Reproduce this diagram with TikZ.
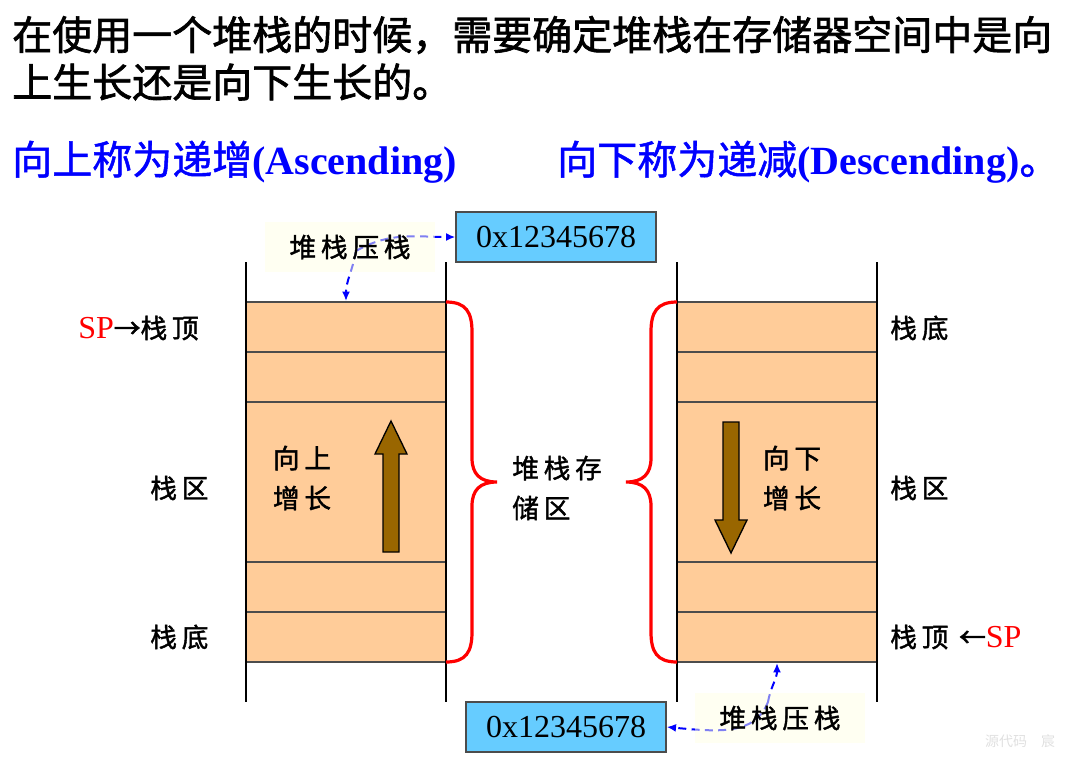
\documentclass[tikz,border=0pt]{standalone}
\usepackage{fontspec}
\setmainfont{Liberation Serif}
\newfontfamily\cjk{Noto Sans CJK SC}
\newfontfamily\cjkt[FakeBold=1.6]{Noto Sans CJK SC}
\newfontfamily\cjkb[FakeBold=1.2]{Noto Sans CJK SC}
\newfontfamily\kai[LetterSpace=18,FakeBold=1.5]{Noto Sans CJK SC}
\newfontfamily\arrowfont[FakeBold=2]{Noto Sans CJK SC}
\usetikzlibrary{arrows.meta}
\definecolor{cellfill}{HTML}{FFCC99}
\definecolor{hexfill}{HTML}{66CCFF}
\definecolor{notefill}{HTML}{FFFFE6}
\definecolor{arrowbrown}{HTML}{996600}
\tikzset{
  cell/.style={draw=black!70, line width=1.5pt, fill=cellfill, minimum width=150pt, inner sep=0pt},
  rail/.style={line width=1.5pt, black},
  brace/.style={red, line width=2.4pt},
  hexbox/.style={draw=black!70, line width=1pt, fill=hexfill, minimum width=150pt, minimum height=37.5pt, inner sep=0pt, font=\fontsize{24}{26}\selectfont},
  notebox/.style={fill=notefill, fill opacity=0.5, text opacity=1, minimum width=127pt, minimum height=38pt, inner sep=0pt, font=\kai\fontsize{20}{22}\selectfont},
  dasharrow/.style={blue, line width=1.5pt, dash pattern=on 6pt off 4pt, -{Latex[length=7pt,width=6pt]}},
  lbl/.style={inner sep=0pt, anchor=west, font=\kai\fontsize{20}{22}\selectfont},
  growlbl/.style={inner sep=0pt, align=left, font=\kai\fontsize{20}{30}\selectfont},
  bigarrow/.style={draw=black, line width=1pt, fill=arrowbrown, line join=miter},
  title/.style={inner sep=0pt, anchor=west, font=\cjkt\fontsize{30}{32}\selectfont},
  subtitle/.style={inner sep=0pt, anchor=west, text=blue, font=\fontsize{30}{32}\selectfont},
}
\begin{document}
\begin{tikzpicture}[x=0.75pt, y=-0.75pt]
\useasboundingbox (0,0) rectangle (1068,758);
% title
\node[title] (t1) at (12,35) {在使用一个堆栈的时候，需要确定堆栈在存储器空间中是向};
\node[title] (t2) at (12,82) {上生长还是向下生长的。};
\node[subtitle] (s1) at (12,162) {{\cjkb 向上称为递增}\textbf{(Ascending)}};
\node[subtitle] (s2) at (557,162) {{\cjkb 向下称为递减}\textbf{(Descending)}{\cjkb 。}};
% left stack cells
\node[cell, minimum height=37.5pt] (L1) at (346,327) {};
\node[cell, minimum height=37.5pt] (L2) at (346,377) {};
\node[cell, minimum height=120pt] (L3) at (346,482) {};
\node[cell, minimum height=37.5pt] (L4) at (346,587) {};
\node[cell, minimum height=37.5pt] (L5) at (346,637) {};
% right stack cells
\node[cell, minimum height=37.5pt] (R1) at (777,327) {};
\node[cell, minimum height=37.5pt] (R2) at (777,377) {};
\node[cell, minimum height=120pt] (R3) at (777,482) {};
\node[cell, minimum height=37.5pt] (R4) at (777,587) {};
\node[cell, minimum height=37.5pt] (R5) at (777,637) {};
% rails
\draw[rail] (246,262) -- (246,702);
\draw[rail] (446,262) -- (446,702);
\draw[rail] (677,262) -- (677,702);
\draw[rail] (877,262) -- (877,702);
% braces
\draw[brace] (446,302) .. controls (466,302) and (472,312) .. (472,332) -- (472,458)
  .. controls (472,474) and (480,482) .. (497,482)
  .. controls (480,482) and (472,490) .. (472,506) -- (472,632)
  .. controls (472,652) and (466,662) .. (446,662);
\draw[brace] (677,302) .. controls (657,302) and (651,312) .. (651,332) -- (651,458)
  .. controls (651,474) and (643,482) .. (626,482)
  .. controls (643,482) and (651,490) .. (651,506) -- (651,632)
  .. controls (651,652) and (657,662) .. (677,662);
% big arrows
\draw[bigarrow] (383,552) -- (399,552) -- (399,454) -- (407,454) -- (391,421) -- (375,454) -- (383,454) -- cycle;
\draw[bigarrow] (723,422) -- (739,422) -- (739,520) -- (747,520) -- (731,553) -- (715,520) -- (723,520) -- cycle;
% growth labels
\node[growlbl] (gU) at (302,478) {向上\\增长};
\node[growlbl] (gD) at (792,478) {向下\\增长};
\node[growlbl, anchor=west] (mid) at (512,488) {堆栈存\\储区};
% side labels
\node[lbl] (lSP) at (78,328) {\textcolor{red}{\fontsize{24}{26}\selectfont\rmfamily SP}{\arrowfont →}栈顶};
\node[lbl] (lArea) at (150,488) {栈区};
\node[lbl] (lBot) at (150,637) {栈底};
\node[lbl] (rBot) at (890,328) {栈底};
\node[lbl] (rArea) at (890,488) {栈区};
\node[lbl] (rSP) at (890,637) {栈顶 {\arrowfont ←}\textcolor{red}{\fontsize{24}{26}\selectfont\rmfamily SP}};
% top push
\node[hexbox] (hexT) at (556,237) {0x12345678};
\coordinate (pA) at (356,251);
\draw[dasharrow] (pA) to[out=30, in=180] (hexT.west);
\draw[dasharrow] (pA) to[out=-100, in=90] (L1.north);
\node[notebox] (pushT) at (350,247) {堆栈压栈};
% bottom push
\node[hexbox] (hexB) at (566,727) {0x12345678};
\coordinate (pB) at (768,702);
\draw[dasharrow] (pB) to[out=80, in=-90] (R5.south);
\draw[dasharrow] (pB) .. controls (755,735) and (720,732) .. (hexB.east);
\node[notebox] (pushB) at (780,718) {堆栈压栈};
% watermark
\node[inner sep=0pt, text=black!12, font=\cjk\fontsize{10.5}{12}\selectfont] (wm) at (1020,741) {源代码\quad 宸};
\end{tikzpicture}
\end{document}
